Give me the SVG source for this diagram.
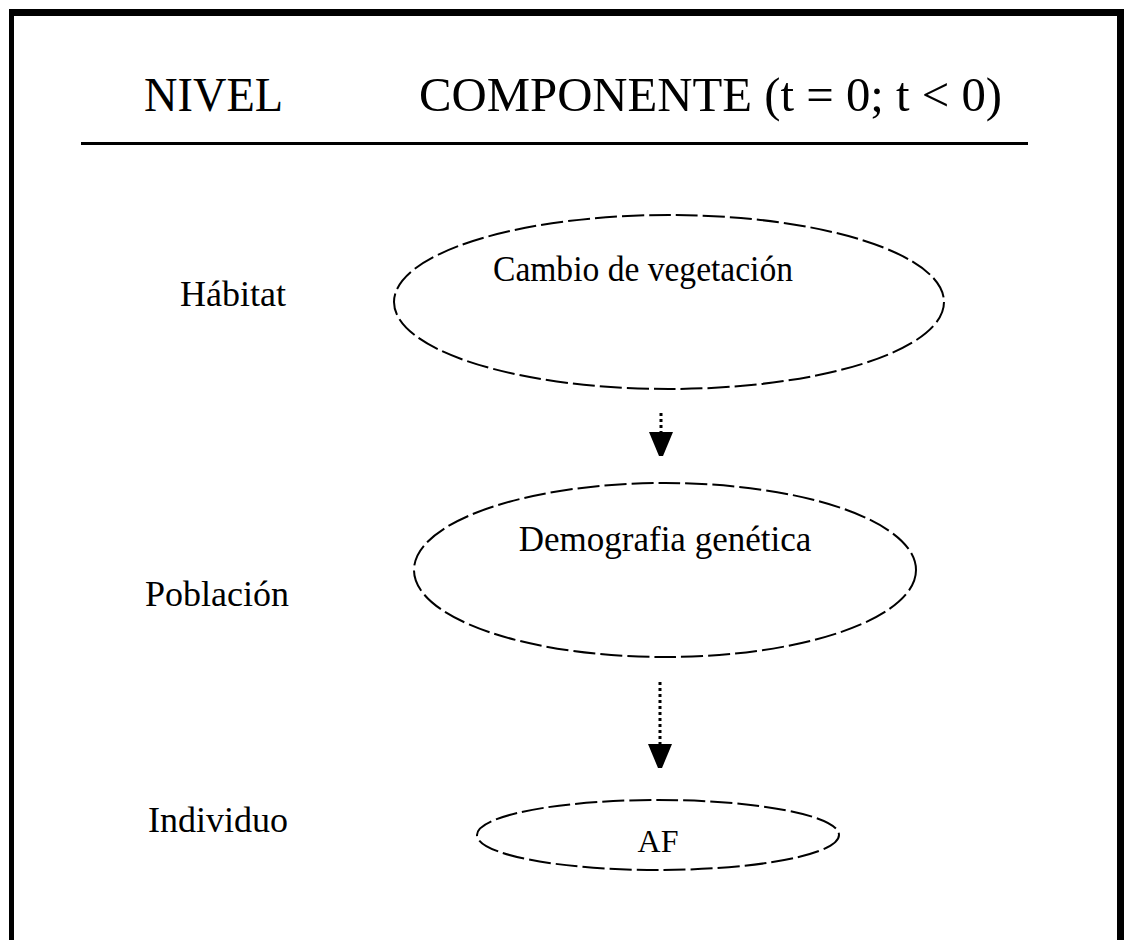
<svg xmlns="http://www.w3.org/2000/svg" width="1127" height="940" viewBox="0 0 1127 940">
<style>
text{font-family:"Liberation Serif","Times New Roman",serif;fill:#000}
.hd{font-size:48px}
.lv{font-size:36px}
.nd{font-size:35px;text-anchor:middle}
.af{font-size:32px;text-anchor:middle}
.el{fill:none;stroke:#000;stroke-width:2;stroke-dasharray:22 5}
.dot{stroke:#000;stroke-width:3;stroke-dasharray:3 3}
</style>
<defs>
<marker id="ah" markerWidth="24" markerHeight="24" refX="23" refY="12" orient="auto" markerUnits="userSpaceOnUse" viewBox="0 0 24 24">
<path d="M0 0 V24 L24 14 V10 Z" fill="#000"/>
</marker>
</defs>
<g id="frame">
<rect x="9" y="9" width="1115" height="7" fill="#000"/>
<rect x="9" y="9" width="5" height="931" fill="#000"/>
<rect x="1117" y="9" width="7" height="931" fill="#000"/>
</g>
<g id="header">
<text class="hd" x="144" y="111" textLength="139" lengthAdjust="spacingAndGlyphs">NIVEL</text>
<text class="hd" x="419" y="111" textLength="583" lengthAdjust="spacingAndGlyphs">COMPONENTE (t = 0; t &lt; 0)</text>
<line x1="81" y1="143.5" x2="1028" y2="143.5" stroke="#000" stroke-width="3"/>
</g>
<g id="levels">
<text class="lv" x="180" y="306">Hábitat</text>
<text class="lv" x="145" y="606">Población</text>
<text class="lv" x="148" y="832">Individuo</text>
</g>
<g id="node-habitat">
<ellipse class="el" cx="669" cy="302" rx="275" ry="87"/>
<text class="nd" x="643" y="281" textLength="300" lengthAdjust="spacingAndGlyphs">Cambio de vegetación</text>
</g>
<g id="node-poblacion">
<ellipse class="el" cx="665" cy="570" rx="251" ry="87"/>
<text class="nd" x="665" y="551">Demografia genética</text>
</g>
<g id="node-individuo">
<ellipse class="el" cx="658" cy="835" rx="181" ry="35"/>
<text class="af" x="658" y="852">AF</text>
</g>
<g id="connectors">
<line class="dot" x1="661" y1="413" x2="661" y2="455" marker-end="url(#ah)"/>
<line class="dot" x1="660" y1="682" x2="660" y2="767" marker-end="url(#ah)"/>
</g>
</svg>
